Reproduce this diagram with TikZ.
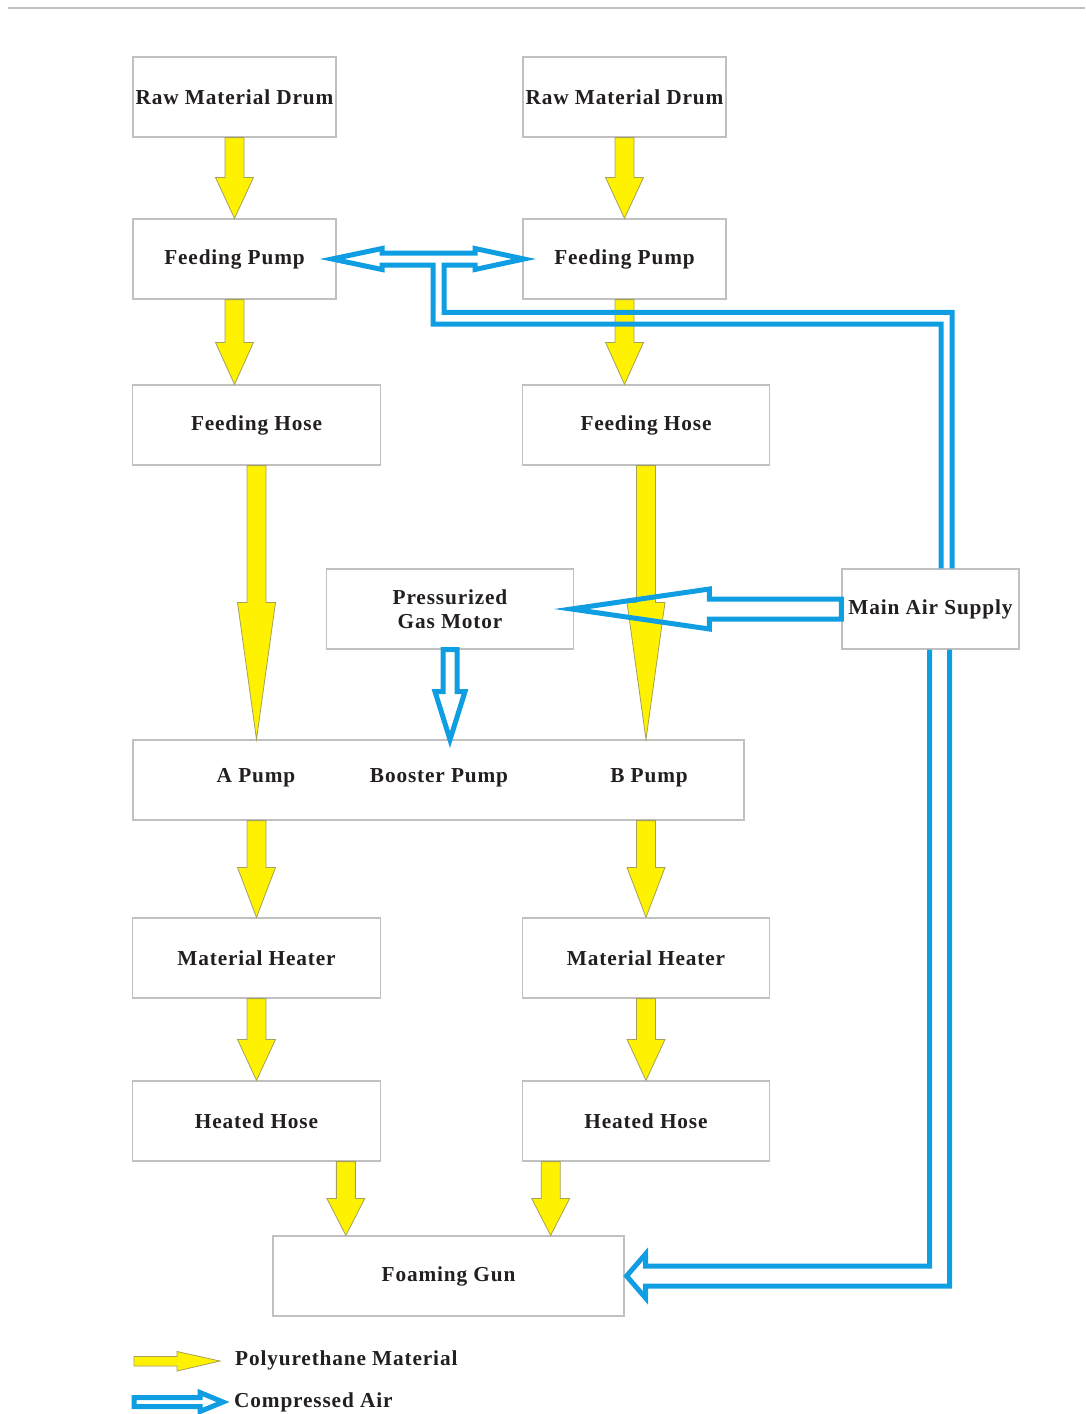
\documentclass[tikz,border=0pt]{standalone}
\usepackage{fontspec}
\newfontfamily\boxfont{Liberation Serif}[LetterSpace=4.0]
\usepackage{xcolor}
\usepackage{tikz}
\usetikzlibrary{calc}

\definecolor{airblue}{RGB}{16,158,226}
\definecolor{matline}{RGB}{165,160,90}
\definecolor{boxline}{RGB}{192,192,192}
\definecolor{ink}{RGB}{35,31,32}

% yellow material arrow: #1 start, #2 tip, #3 head length
\newcommand{\matarrow}[3]{%
  \filldraw[mat] let \p1=(#1), \p2=(#2) in
    (\x1-9.5,\y1) -- (\x1-9.5,\y2+#3) -- (\x1-19,\y2+#3) -- (\x1,\y2)
    -- (\x1+19,\y2+#3) -- (\x1+9.5,\y2+#3) -- (\x1+9.5,\y1) -- cycle;}

\begin{document}
\begin{tikzpicture}[
  x=1pt, y=-1pt,
  lbl/.style={font=\boxfont\bfseries\fontsize{21.3}{24}\selectfont, text=ink, align=center},
  box/.style={lbl, draw=boxline, line width=1.2pt, fill=white, minimum height=80pt,
              inner sep=0pt},
  shortbox/.style={box, minimum width=203pt},
  widebox/.style={box, minimum width=247.5pt},
  mat/.style={fill=yellow, draw=matline, line width=0.8pt, line join=miter},
  air/.style={draw=airblue, line width=5pt, line join=miter}
]
\useasboundingbox (0,0) rectangle (1085,1414);
\draw[boxline, line width=1.5pt] (8,8) -- (1085,8);

%% Nodes
\node[shortbox] (drumL) at (234.5,  97) {Raw Material Drum};
\node[shortbox] (drumR) at (624.5,  97) {Raw Material Drum};
\node[shortbox] (fpL)   at (234.5, 259) {Feeding Pump};
\node[shortbox] (fpR)   at (624.5, 259) {Feeding Pump};
\node[widebox]  (fhL)   at (256.5, 425) {Feeding Hose};
\node[widebox]  (fhR)   at (646,   425) {Feeding Hose};
\node[widebox]  (gas)   at (450,   609) {Pressurized\\Gas Motor};
\node[box, minimum width=177pt] (mas) at (930.5, 609) {Main Air Supply};
\node[box, minimum width=611pt] (pumps) at (438.5, 780) {};
\node[lbl] (apump) at (256, 778) {A Pump};
\node[lbl] (boost) at (439, 778) {Booster Pump};
\node[lbl] (bpump) at (649, 778) {B Pump};
\node[widebox]  (mhL)   at (256.5, 958)  {Material Heater};
\node[widebox]  (mhR)   at (646,   958)  {Material Heater};
\node[widebox]  (hhL)   at (256.5, 1121) {Heated Hose};
\node[widebox]  (hhR)   at (646,   1121) {Heated Hose};
\node[box, minimum width=351pt] (gun) at (448.5, 1276) {Foaming Gun};

%% Material flow
\matarrow{drumL.south}{fpL.north}{41}
\matarrow{drumR.south}{fpR.north}{41}
\matarrow{fpL.south}{fpL.south |- fhL.north}{42}
\matarrow{fpR.south}{fpR.south |- fhR.north}{42}
\matarrow{fhL.south}{fhL.south |- pumps.north}{137}
\matarrow{fhR.south}{fhR.south |- pumps.north}{137}
\matarrow{fhL.south |- pumps.south}{mhL.north}{50}
\matarrow{fhR.south |- pumps.south}{mhR.north}{50}
\matarrow{mhL.south}{hhL.north}{41}
\matarrow{mhR.south}{hhR.north}{41}
\coordinate (hgL) at ($(hhL.south east)+(-35,0)$);
\coordinate (hgR) at ($(hhR.south west)+(29,0)$);
\matarrow{hgL}{hgL |- gun.north}{37}
\matarrow{hgR}{hgR |- gun.north}{37}

%% Compressed air: supply -> both feeding pumps
\coordinate (tee) at ($(fpL.east)!0.5!(fpR.west)+(9,0)$);
\draw[air] ($(mas.north)+(10.5,0)$) |- ($(tee)+(-5.5,65)$) -- ++(0,-59)
  -- ++(-51,0) -- ++(0,4.5) -- ++(-50,-10.5) -- ++(50,-10.5) -- ++(0,4.5)
  -- ++(93,0) -- ++(0,-4.5) -- ++(49,10.5) -- ++(-49,10.5) -- ++(0,-4.5)
  -- ++(-31,0) |- ($(mas.north)+(21.5,-256)$) -- ($(mas.north)+(21.5,0)$);

%% Compressed air: supply -> gas motor -> booster pump
\draw[air] ($(mas.west)+(0,-10)$) -- ++(-132,0) -- ++(0,-10) -- ++(-138,20)
  -- ++(138,20) -- ++(0,-10) -- ++(132,0) -- cycle;
\draw[air] ($(gas.south)+(-7,0)$) -- ++(0,42) -- ++(-8,0) -- ++(15,48)
  -- ++(15,-48) -- ++(-8,0) -- ++(0,-42) -- cycle;

%% Compressed air: supply -> foaming gun
\draw[air] ($(mas.south)+(-1,0)$) |- ($(gun.east)+(21,-10)$) -- ++(0,-12)
  -- ++(-19,22) -- ++(19,22) -- ++(0,-12) -| ($(mas.south)+(19,0)$);

%% Legend
\node[lbl, anchor=west, inner sep=0pt] (legmat) at (235, 1360) {Polyurethane Material};
\node[lbl, anchor=west, inner sep=0pt] (legair) at (234, 1402) {Compressed Air};
\filldraw[mat] ($(legmat.west)+(-15,1)$) -- ++(-43,-9.5) -- ++(0,5) -- ++(-43,0)
  -- ++(0,9.5) -- ++(43,0) -- ++(0,5) -- cycle;
\draw[air] ($(legair.west)+(-11,0)$) -- ++(-23,-9.5) -- ++(0,5) -- ++(-66,0)
  -- ++(0,9) -- ++(66,0) -- ++(0,5) -- cycle;

\end{tikzpicture}
\end{document}
